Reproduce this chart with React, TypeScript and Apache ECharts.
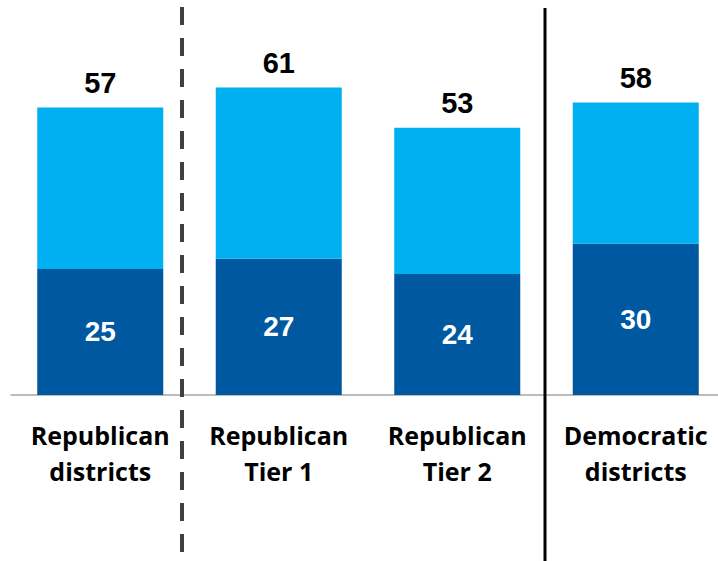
import React, { useEffect, useRef } from "react";
import * as echarts from "echarts";

const categories = ["Republican\ndistricts", "Republican\nTier 1", "Republican\nTier 2", "Democratic\ndistricts"];
const baseValues = [25, 27, 24, 30];
const totals = [57, 61, 53, 58];
const upperValues = totals.map((t, i) => t - baseValues[i]);

export default function App() {
  const ref = useRef<HTMLDivElement>(null);
  useEffect(() => {
    if (!ref.current) return;
    const chart = echarts.init(ref.current, null, { renderer: "svg" });
    chart.setOption({
      animation: false,
      grid: { left: 11, top: 42, width: 714, height: 353, outerBoundsMode: "none", containLabel: false },
      xAxis: {
        type: "category",
        data: categories,
        axisLine: { show: true, lineStyle: { color: "#A6A6A6", width: 1.5 } },
        axisTick: { show: false },
        axisLabel: {
          interval: 0,
          margin: 22,
          fontFamily: "Open Sans",
          fontWeight: "bold",
          fontSize: 25,
          lineHeight: 36,
          color: "#000",
        },
      },
      yAxis: { type: "value", min: 0, max: 70, show: false, splitLine: { show: false } },
      series: [
        {
          type: "bar",
          stack: "a",
          data: baseValues,
          barWidth: 126,
          itemStyle: { color: "#0058A0" },
          label: {
            show: true,
            position: "inside",
            color: "#fff",
            fontFamily: "Liberation Sans",
            fontWeight: "bold",
            fontSize: 28,
          },
        },
        {
          type: "bar",
          stack: "a",
          data: upperValues,
          barWidth: 126,
          itemStyle: { color: "#00B0F0" },
          label: {
            show: true,
            position: "top",
            distance: 10,
            formatter: (p: any) => String(totals[p.dataIndex]),
            color: "#000",
            fontFamily: "Liberation Sans",
            fontWeight: "bold",
            fontSize: 29,
          },
        },
      ],
      graphic: [
        {
          type: "line",
          shape: { x1: 182, y1: 7, x2: 182, y2: 552 },
          style: { stroke: "#404040", lineWidth: 4, lineDash: [18, 13] },
          z: 10,
        },
        {
          type: "line",
          shape: { x1: 545, y1: 8, x2: 545, y2: 561 },
          style: { stroke: "#000", lineWidth: 3 },
          z: 10,
        },
      ],
    });
    return () => chart.dispose();
  }, []);
  return <div ref={ref} style={{ width: 718, height: 561, position: "absolute", left: 0, top: 0 }} />;
}
